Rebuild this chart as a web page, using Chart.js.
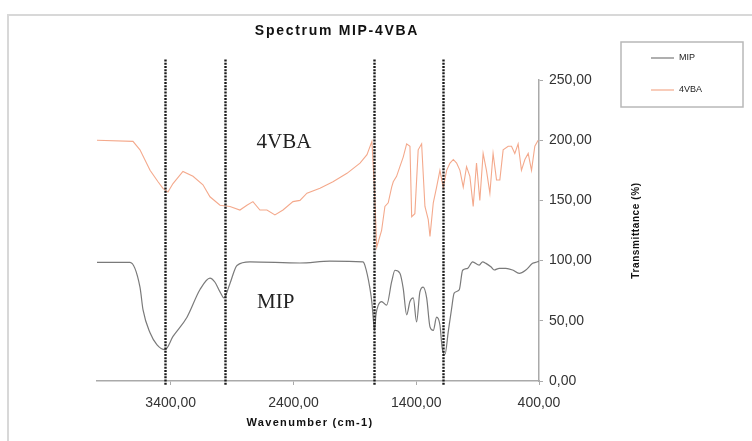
<!DOCTYPE html>
<html>
<head>
<meta charset="utf-8">
<script src="https://cdn.jsdelivr.net/npm/chart.js@4.4.0/dist/chart.umd.min.js"></script>
<style>
  html, body { margin: 0; padding: 0; background: #fff; }
  #wrap { width: 752px; height: 441px; position: relative; }
</style>
</head>
<body>
<div id="wrap"><canvas id="chart"></canvas></div>
<script>
// MIP spectrum (wavenumber cm-1, transmittance %)
const mipWave = [4000, 3731, 3650, 3625, 3568, 3511, 3446, 3381, 3267, 3161, 3080, 3039, 2998, 2966, 2917, 2860, 2754, 2347, 2103, 1834, 1818, 1777, 1761, 1750, 1740, 1728, 1709, 1682, 1641, 1600, 1573, 1533, 1506, 1478, 1451, 1424, 1397, 1370, 1343, 1315, 1288, 1261, 1234, 1207, 1188, 1166, 1139, 1112, 1091, 1050, 1022, 981, 941, 887, 859, 832, 792, 765, 724, 670, 615, 561, 507, 452, 411, 400];
const mipT = [98.5, 98.5, 78, 59, 40, 30, 26, 37, 53, 76, 85.5, 82, 74, 69, 81, 96, 99, 98, 99.5, 99, 96, 77, 65, 52, 42, 55, 63, 66, 63, 82.5, 92, 89.5, 77, 55, 66, 69, 49, 74, 78, 69, 45, 42, 53, 46.5, 27, 22, 41, 60, 73, 75.6, 92, 93.6, 99, 96.3, 99, 97.7, 94.9, 92.2, 93.6, 93.6, 92.2, 89.4, 92.2, 97.7, 99, 99.5];

// 4VBA spectrum
const vbaWave = [4000, 3707, 3650, 3568, 3503, 3463, 3422, 3381, 3300, 3218, 3137, 3080, 2998, 2917, 2836, 2779, 2730, 2673, 2616, 2551, 2485, 2404, 2347, 2290, 2184, 2078, 1964, 1858, 1801, 1761, 1740, 1722, 1682, 1655, 1628, 1600, 1587, 1560, 1533, 1506, 1478, 1451, 1437, 1411, 1384, 1356, 1329, 1302, 1288, 1261, 1234, 1207, 1180, 1152, 1125, 1098, 1071, 1044, 1017, 990, 963, 936, 909, 882, 855, 828, 800, 774, 746, 719, 692, 651, 624, 597, 570, 543, 515, 488, 461, 434, 407];
const vbaT = [200, 199, 192, 175, 165.5, 160, 157, 164, 174, 170, 163, 153, 146, 145, 142, 146, 149, 142, 142, 138, 142, 149, 150, 156, 160, 165.5, 172.5, 181, 188, 199, 160, 111, 125, 145, 148, 161, 165.5, 170, 178, 186, 197, 195, 136.5, 139, 192, 197, 145, 134, 120, 148, 161, 175, 161, 175, 181, 184, 181, 175, 161, 178, 170, 145, 181, 150, 189, 175, 156, 189, 167, 167, 192, 195, 195, 189, 197, 175, 184, 189, 175, 195, 200];

// marked bands (dotted verticals)
const bandWave = [3450, 2960, 1740, 1180];

const xTicks = [3400, 2400, 1400, 400];
const fmt = (v) => v.toFixed(2).replace('.', ',');

const toPoints = (xs, ys) => xs.map((x, i) => ({ x, y: ys[i] }));

const decor = {
  id: 'decor',
  afterDatasetsDraw(chart) {
    const { ctx, scales: { x, y } } = chart;
    ctx.save();
    // dotted band markers
    ctx.strokeStyle = '#1a1a1a';
    ctx.lineWidth = 2.4;
    ctx.setLineDash([2, 1.2]);
    bandWave.forEach((w) => {
      const px = Math.round(x.getPixelForValue(w)) + 0.5;
      ctx.beginPath();
      ctx.moveTo(px, y.getPixelForValue(267));
      ctx.lineTo(px, y.getPixelForValue(-4));
      ctx.stroke();
    });
    ctx.setLineDash([]);
    // curve labels
    ctx.fillStyle = '#222';
    ctx.font = '21px "Liberation Serif", serif';
    ctx.textAlign = 'center';
    ctx.textBaseline = 'middle';
    ctx.fillText('4VBA', x.getPixelForValue(2477), y.getPixelForValue(198));
    ctx.fillText('MIP', x.getPixelForValue(2545), y.getPixelForValue(65));
    ctx.restore();
  },
  afterDraw(chart) {
    const { ctx, scales: { x, y }, chartArea } = chart;
    ctx.save();
    // outer frame
    ctx.strokeStyle = '#d8d8d8';
    ctx.lineWidth = 2;
    ctx.strokeRect(8, 15, 760, 440);
    // title
    ctx.fillStyle = '#111';
    ctx.font = 'bold 14px "Liberation Sans", Arial, sans-serif';
    ctx.letterSpacing = '1.7px';
    ctx.textAlign = 'center';
    ctx.textBaseline = 'middle';
    ctx.fillText('Spectrum MIP-4VBA', 337, 31);
    // x title
    ctx.font = 'bold 11px "Liberation Sans", Arial, sans-serif';
    ctx.letterSpacing = '1.3px';
    ctx.fillText('Wavenumber (cm-1)', (chartArea.left + chartArea.right) / 2 - 8, 423);
    // y title
    ctx.save();
    ctx.translate(636, (y.getPixelForValue(0) + y.getPixelForValue(250)) / 2);
    ctx.rotate(-Math.PI / 2);
    ctx.font = 'bold 10px "Liberation Sans", Arial, sans-serif';
    ctx.letterSpacing = '0.6px';
    ctx.fillText('Transmittance (%)', 0, 0);
    ctx.restore();
    // legend
    ctx.letterSpacing = '0px';
    ctx.strokeStyle = '#b8b8b8';
    ctx.lineWidth = 1.5;
    ctx.strokeRect(621, 42, 122, 65);
    ctx.font = '9px "Liberation Sans", Arial, sans-serif';
    ctx.textAlign = 'left';
    chart.data.datasets.forEach((ds, i) => {
      const ly = 58 + i * 32;
      ctx.strokeStyle = ds.borderColor;
      ctx.lineWidth = 1.2;
      ctx.beginPath();
      ctx.moveTo(651, ly);
      ctx.lineTo(674, ly);
      ctx.stroke();
      ctx.fillStyle = '#222';
      ctx.fillText(ds.label, 679, ly);
    });
    ctx.restore();
  },
};

new Chart(document.getElementById('chart'), {
  type: 'scatter',
  data: {
    datasets: [
      {
        label: 'MIP',
        data: toPoints(mipWave, mipT),
        showLine: true,
        borderColor: '#7a7a7a',
        borderWidth: 1.2,
        pointRadius: 0,
        cubicInterpolationMode: 'monotone',
      },
      {
        label: '4VBA',
        data: toPoints(vbaWave, vbaT),
        showLine: true,
        borderColor: '#f4a98c',
        borderWidth: 1.1,
        pointRadius: 0,
      },
    ],
  },
  plugins: [decor],
  options: {
    responsive: true,
    maintainAspectRatio: false,
    animation: false,
    layout: { padding: { left: 97, top: 80, right: 0, bottom: 0 } },
    plugins: {
      legend: { display: false },
      tooltip: { enabled: false },
      title: { display: false },
    },
    scales: {
      x: {
        type: 'linear',
        reverse: true,
        min: 400,
        max: 4000,
        grid: { drawOnChartArea: false, drawTicks: true, tickLength: 4, color: '#aaa' },
        border: { color: '#aaa', width: 1.5 },
        ticks: {
          padding: 10,
          maxRotation: 0,
          autoSkip: false,
          color: '#333',
          font: { family: '"Liberation Sans", Arial, sans-serif', size: 14 },
          callback: (v) => fmt(v),
        },
        afterBuildTicks: (s) => { s.ticks = xTicks.map((v) => ({ value: v })); },
        afterFit: (s) => { s.height = 60; },
      },
      y: {
        position: 'right',
        min: 0,
        max: 250,
        grid: { drawOnChartArea: false, drawTicks: true, tickLength: 4, color: '#aaa' },
        border: { color: '#aaa', width: 1.5 },
        ticks: {
          stepSize: 50,
          padding: 6,
          color: '#333',
          font: { family: '"Liberation Sans", Arial, sans-serif', size: 14 },
          callback: (v) => fmt(v),
        },
        afterFit: (s) => { s.width = 213; },
      },
    },
  },
});
</script>
</body>
</html>
